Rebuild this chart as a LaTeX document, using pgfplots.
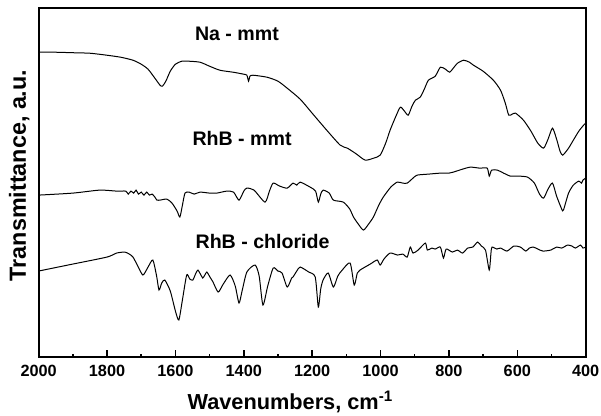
\documentclass[border=0pt]{standalone}
\usepackage{pgfplots}
\pgfplotsset{compat=1.18}
\usepackage{fontspec}
\setmainfont{Liberation Sans}
\usetikzlibrary{calc}

% FTIR spectra, y in arbitrary units (offset stacked)
\pgfplotstableread{
wn y
2000 309
1950 309
1900 308.5
1850 308
1800 306
1760 304
1724 301
1700 297
1680 292
1660 283
1645 276
1638 275
1628 280
1615 290
1600 297
1581 300
1560 300
1528 299
1500 295
1470 291
1431 289
1400 287
1391 286
1386 280
1382 285
1373 286
1332 284
1300 280
1273 273
1235 262
1200 248
1160 232
1118 216
1097 213
1070 207
1045 201
1020 203
1001 206
985 218
972 231
955 245
942 254
930 250
919 246
908 255
898 261
884 264
872 272
860 281
840 285
825 294
810 292
798 289
785 294
775 298
757 301
740 299
728 296
700 290
670 281
649 271
635 258
625 246
615 247
605 248
582 241
560 230
540 218
523 213
510 222
497 233
485 222
475 210
467 206
450 213
436 221
420 230
406 236
400 238
}\namt

\pgfplotstableread{
wn y
2000 166
1900 168
1821 171
1772 170
1745 170
1738 167
1730 170
1722 168
1715 171
1708 167
1700 169
1692 166
1684 169
1676 166
1668 167
1660 164
1654 161
1645 161
1625 162
1610 158
1595 150
1587 144
1580 155
1572 168
1560 169
1545 167
1528 169
1500 168
1479 168
1450 170
1430 169
1414 161
1400 170
1391 173
1370 171
1338 159
1325 170
1314 178
1295 175
1273 173
1256 178
1245 176
1235 179
1206 174
1190 170
1182 159
1175 167
1168 171
1150 168
1138 161
1109 159
1090 152
1079 144
1065 137
1050 131
1035 137
1021 144
1005 156
992 164
970 174
951 179
935 178
922 178
905 183
893 186
860 187
825 188
800 188
787 189
760 192
737 194
710 193
688 193
682 185
675 191
658 191
640 188
620 185
595 185
570 184
550 178
535 167
523 163
510 172
497 178
485 165
470 152
465 151
450 168
436 176
420 180
412 178
408 181
400 183
}\rhbmmt

\pgfplotstableread{
wn y
2000 90
1900 97
1800 104
1772 108
1748 109
1735 107
1724 104
1710 95
1695 86
1680 94
1666 101
1655 85
1648 71
1640 78
1631 81
1615 70
1600 50
1590 41
1580 60
1567 86
1558 82
1549 81
1540 88
1534 91
1527 87
1520 83
1514 86
1508 89
1499 84
1490 79
1475 69
1460 77
1440 86
1425 75
1414 58
1405 70
1391 89
1367 96
1355 85
1344 56
1330 75
1314 93
1300 90
1288 88
1273 74
1260 83
1256 84
1245 90
1235 94
1210 89
1191 84
1182 54
1175 72
1168 81
1153 88
1138 74
1125 85
1112 91
1089 98
1077 76
1068 88
1060 91
1030 97
1010 101
1001 96
990 102
972 108
950 106
935 107
922 104
913 114
905 108
890 111
869 118
863 111
850 113
840 112
825 114
816 103
808 112
790 109
775 111
760 108
745 113
730 114
716 119
705 115
693 111
682 91
677 108
674 114
660 112
649 113
630 110
610 115
591 114
575 110
565 113
553 114
540 112
525 110
502 111
485 114
470 113
453 116
440 115
430 113
415 116
408 113
400 114
}\rhbcl

\begin{document}
\begin{tikzpicture}
\begin{axis}[
    scale only axis,
    width=410.25pt, height=261.75pt,
    x dir=reverse,
    xmin=400, xmax=2000,
    ymin=3.7, ymax=353,
    xtick={400,600,...,2000},
    minor x tick num=1,
    xtick pos=bottom,
    ytick=\empty,
    tick align=inside,
    major tick length=5.25pt,
    minor tick length=2.5pt,
    axis line style={line width=1.5pt},
    every tick/.style={line width=1.1pt, black},
    /pgf/number format/assume math mode=true,
    /pgf/number format/1000 sep={},
    xticklabel style={font=\bfseries\fontsize{12.2}{14}\selectfont, yshift=-2pt},
    xlabel={Wavenumbers, cm\textsuperscript{-1}},
    ylabel={Transmittance, a.u.},
    xlabel style={font=\bfseries\fontsize{16.3}{19}\selectfont, at={(axis description cs:0.46,0)}, anchor=base, yshift=-39.5pt},
    ylabel style={font=\bfseries\fontsize{17.5}{20}\selectfont, at={(axis description cs:-0.0232,0.521)}, anchor=base},
]
\addplot[black, line width=0.75pt, smooth, tension=0.4] table[x=wn, y=y] {\namt};
\addplot[black, line width=0.75pt, smooth, tension=0.4] table[x=wn, y=y] {\rhbmmt};
\addplot[black, line width=0.75pt, smooth, tension=0.4] table[x=wn, y=y] {\rhbcl};
\node[anchor=base, font=\bfseries\fontsize{14.7}{17}\selectfont] at (axis cs:1420,321) {Na - mmt};
\node[anchor=base, font=\bfseries\fontsize{14.7}{17}\selectfont] at (axis cs:1405,216) {RhB - mmt};
\node[anchor=base, font=\bfseries\fontsize{14.7}{17}\selectfont] at (axis cs:1345,113) {RhB - chloride};
\end{axis}
\pgfresetboundingbox
\path ($(current axis.south west)+(-29pt,-43.3pt)$) rectangle ($(current axis.north east)+(11.5pt,6.2pt)$);
\end{tikzpicture}
\end{document}
